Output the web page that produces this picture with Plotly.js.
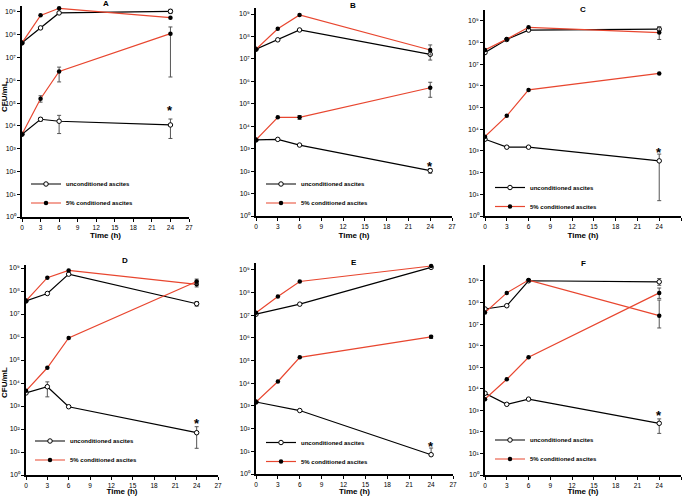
<!DOCTYPE html>
<html>
<head>
<meta charset="utf-8">
<script src="https://cdn.plot.ly/plotly-3.0.1.min.js"></script>
<style>
html,body{margin:0;padding:0;background:#fff;}
#chart{width:684px;height:496px;}
</style>
</head>
<body>
<div id="chart"></div>
<script>
// ---------- DATA ----------
const timeH = [0, 3, 6, 24];
const panelLabels = ['A', 'B', 'C', 'D', 'E', 'F'];
const xTickVals = [0, 3, 6, 9, 12, 15, 18, 21, 24, 27];
const yTickVals = [1, 10, 100, 1e3, 1e4, 1e5, 1e6, 1e7, 1e8, 1e9];
const yTickText = ['10\u2070', '10\u00B9', '10\u00B2', '10\u00B3', '10\u2074',
                   '10\u2075', '10\u2076', '10\u2077', '10\u2078', '10\u2079'];
const seriesNames = ['unconditioned ascites', '5% conditioned ascites'];
const yTitle = 'CFU/mL';
const xTitle = 'Time (h)';

// Panel A (CFU/mL); error bounds: upper / lower, NaN = no bar
const A_highUncond = [4.4e7, 2.0e8, 9.1e8, 1.07e9];
const A_highUncondUp = [NaN, NaN, NaN, 1.3e9];
const A_highUncondLo = [NaN, NaN, NaN, 8.5e8];
const A_highCond = [4.4e7, 7.1e8, 1.45e9, 5.6e8];
const A_lowCond = [4.3e3, 1.55e5, 2.45e6, 1.12e8];
const A_lowCondUp = [NaN, 2.1e5, 3.8e6, 2.2e8];
const A_lowCondLo = [NaN, 1.1e5, 8.5e5, 1.4e6];
const A_lowUncond = [4.3e3, 1.95e4, 1.6e4, 1.1e4];
const A_lowUncondUp = [NaN, 2.3e4, 2.9e4, 2.0e4];
const A_lowUncondLo = [NaN, 1.6e4, 4.6e3, 2.8e3];
const A_star = 6.3e4;

// Panel B
const B_highUncond = [2.7e7, 7.1e7, 1.95e8, 1.6e7];
const B_highUncondUp = [NaN, NaN, NaN, 2.1e7];
const B_highUncondLo = [NaN, NaN, NaN, 8.9e6];
const B_highCond = [2.7e7, 2.2e8, 9.1e8, 2.5e7];
const B_highCondUp = [NaN, NaN, NaN, 4.2e7];
const B_highCondLo = [NaN, NaN, NaN, 1.5e7];
const B_lowCond = [2.45e3, 2.5e4, 2.5e4, 5.2e5];
const B_lowCondUp = [NaN, NaN, 3.0e4, 9.1e5];
const B_lowCondLo = [NaN, NaN, 2.0e4, 1.95e5];
const B_lowUncond = [2.45e3, 2.6e3, 1.45e3, 1.05e2];
const B_lowUncondUp = [NaN, NaN, NaN, 1.3e2];
const B_lowUncondLo = [NaN, NaN, NaN, 0.8e2];
const B_star = 2.2e2;

// Panel C
const C_highUncond = [3.5e7, 1.4e8, 3.8e8, 4.2e8];
const C_highUncondUp = [NaN, NaN, NaN, 4.8e8];
const C_highUncondLo = [NaN, NaN, NaN, 3.6e8];
const C_highCond = [4.6e7, 1.45e8, 5.1e8, 2.9e8];
const C_highCondUp = [NaN, NaN, NaN, 5.5e8];
const C_highCondLo = [NaN, NaN, NaN, 1.4e8];
const C_lowCond = [4.6e3, 4.2e4, 6.6e5, 3.8e6];
const C_lowUncond = [3.5e3, 1.5e3, 1.5e3, 3.5e2];
const C_lowUncondUp = [NaN, NaN, NaN, 7.2e2];
const C_lowUncondLo = [NaN, NaN, NaN, 5.1];
const C_star = 1.23e3;

// Panel D
const D_highUncond = [3.7e7, 7.8e7, 5.4e8, 2.8e7];
const D_highUncondUp = [NaN, NaN, NaN, 3.5e7];
const D_highUncondLo = [NaN, NaN, NaN, 2.2e7];
const D_highCond = [3.7e7, 3.8e8, 7.8e8, 1.95e8];
const D_highCondUp = [NaN, NaN, NaN, 2.7e8];
const D_highCondLo = [NaN, NaN, NaN, 1.5e8];
const D_lowCond = [4.6e3, 4.6e4, 9.1e5, 2.6e8];
const D_lowCondUp = [NaN, NaN, NaN, 3.3e8];
const D_lowCondLo = [NaN, NaN, NaN, 2.0e8];
const D_lowUncond = [3.7e3, 6.9e3, 9.3e2, 69];
const D_lowUncondUp = [NaN, 1.12e4, NaN, 1.26e2];
const D_lowUncondLo = [NaN, 2.5e3, NaN, 14.5];
const D_star = 2.3e2;

// Panel E (null = not measured)
const E_highUncond = [1.12e7, null, 3.1e7, 1.3e9];
const E_highCond = [1.3e7, 6.8e7, 3.1e8, 1.5e9];
const E_lowCond = [1.5e3, 1.2e4, 1.4e5, 1.12e6];
const E_lowCondUp = [NaN, NaN, NaN, 1.3e6];
const E_lowCondLo = [NaN, NaN, NaN, 0.95e6];
const E_lowUncond = [1.5e3, null, 6.3e2, 7.1];
const E_lowUncondUp = [NaN, NaN, NaN, 14];
const E_lowUncondLo = [NaN, NaN, NaN, 7.1];
const E_star = 23;

// Panel F
const F_highUncond = [5.0e7, 7.1e7, 1.02e9, 9.1e8];
const F_highUncondUp = [NaN, NaN, NaN, 1.3e9];
const F_highUncondLo = [NaN, NaN, NaN, 6.3e8];
const F_highCond = [3.4e7, 2.8e8, 1.1e9, 2.45e7];
const F_highCondUp = [NaN, NaN, NaN, 1.3e8];
const F_highCondLo = [NaN, NaN, NaN, 6.6e6];
const F_lowCond = [3.3e3, 2.75e4, 2.9e5, 2.8e8];
const F_lowCondUp = [NaN, NaN, NaN, 4.7e8];
const F_lowCondLo = [NaN, NaN, NaN, 1.55e8];
const F_lowUncond = [6.2e3, 1.9e3, 3.3e3, 2.5e2];
const F_lowUncondUp = [NaN, NaN, NaN, 4.0e2];
const F_lowUncondLo = [NaN, NaN, NaN, 85];
const F_star = 7.8e2;

// ---------- BUILD ----------
const W = 684, H = 496;
const RED = '#e8462f';
const FONT = 'Liberation Sans, Arial, sans-serif';
const NONE = [NaN, NaN, NaN, NaN];

const panels = [
  {id: 'A', hu: [A_highUncond, A_highUncondUp, A_highUncondLo], hc: [A_highCond, NONE, NONE],
   lc: [A_lowCond, A_lowCondUp, A_lowCondLo], lu: [A_lowUncond, A_lowUncondUp, A_lowUncondLo], star: A_star,
   box: {l: 22, r: 189, b: 217, t: 6, dec: 22.78}, leg: {x: 26, y: 193.5}, lab: {x: 106, y: 4}, ytitle: {x: 4, y: 97}, xstand: 3},
  {id: 'B', hu: [B_highUncond, B_highUncondUp, B_highUncondLo], hc: [B_highCond, B_highCondUp, B_highCondLo],
   lc: [B_lowCond, B_lowCondUp, B_lowCondLo], lu: [B_lowUncond, B_lowUncondUp, B_lowUncondLo], star: B_star,
   box: {l: 256, r: 452, b: 216, t: 8, dec: 22.44}, leg: {x: 261, y: 193.5}, lab: {x: 353, y: 5}, xstand: 4},
  {id: 'C', hu: [C_highUncond, C_highUncondUp, C_highUncondLo], hc: [C_highCond, C_highCondUp, C_highCondLo],
   lc: [C_lowCond, NONE, NONE], lu: [C_lowUncond, C_lowUncondUp, C_lowUncondLo], star: C_star,
   box: {l: 485, r: 681, b: 216, t: 10, dec: 21.67}, leg: {x: 490, y: 197}, lab: {x: 583, y: 9}, xstand: 4},
  {id: 'D', hu: [D_highUncond, D_highUncondUp, D_highUncondLo], hc: [D_highCond, D_highCondUp, D_highCondLo],
   lc: [D_lowCond, D_lowCondUp, D_lowCondLo], lu: [D_lowUncond, D_lowUncondUp, D_lowUncondLo], star: D_star,
   box: {l: 26, r: 218, b: 475, t: 265, dec: 23.0}, leg: {x: 30, y: 450.5}, lab: {x: 125, y: 260}, ytitle: {x: 4, y: 383}, xstand: 4},
  {id: 'E', hu: [E_highUncond, NONE, NONE], hc: [E_highCond, NONE, NONE],
   lc: [E_lowCond, E_lowCondUp, E_lowCondLo], lu: [E_lowUncond, E_lowUncondUp, E_lowUncondLo], star: E_star,
   box: {l: 256, r: 453, b: 474, t: 263, dec: 22.67}, leg: {x: 261, y: 452}, lab: {x: 354, y: 262}, xstand: 4},
  {id: 'F', hu: [F_highUncond, F_highUncondUp, F_highUncondLo], hc: [F_highCond, F_highCondUp, F_highCondLo],
   lc: [F_lowCond, F_lowCondUp, F_lowCondLo], lu: [F_lowUncond, F_lowUncondUp, F_lowUncondLo], star: F_star,
   box: {l: 485, r: 681, b: 475, t: 265, dec: 21.56}, leg: {x: 490, y: 449.5}, lab: {x: 583, y: 263}, xstand: 4}
];

function errSpec(vals, up, lo) {
  const plus = vals.map((v, i) => (v == null || isNaN(up[i])) ? NaN : up[i] - v);
  const minus = vals.map((v, i) => (v == null || isNaN(lo[i])) ? NaN : v - lo[i]);
  return {type: 'data', symmetric: false, array: plus, arrayminus: minus,
          color: '#555', thickness: 1, width: 2, visible: true};
}

const traces = [];
const layout = {
  width: W, height: H,
  margin: {l: 0, r: 0, t: 0, b: 0},
  paper_bgcolor: '#fff', plot_bgcolor: '#fff',
  font: {family: FONT, color: '#000', size: 7},
  showlegend: true,
  annotations: []
};

panels.forEach((p, k) => {
  const n = k + 1;
  const xa = 'x' + (n === 1 ? '' : n), ya = 'y' + (n === 1 ? '' : n);
  const legName = 'legend' + (n === 1 ? '' : n);
  const b = p.box;
  const rangeTop = (b.b - b.t) / b.dec;

  const uncondStyle = {line: {color: '#000', width: 1.2},
    marker: {symbol: 'circle', size: 4.5, color: '#fff', line: {color: '#000', width: 1}}};
  const condStyle = {line: {color: RED, width: 1.2},
    marker: {symbol: 'circle', size: 4.5, color: '#000', line: {color: '#000', width: 0}}};

  const defs = [
    {d: p.hu, s: uncondStyle, name: seriesNames[0], show: true},
    {d: p.hc, s: condStyle, name: seriesNames[1], show: true},
    {d: p.lu, s: uncondStyle, name: seriesNames[0], show: false},
    {d: p.lc, s: condStyle, name: seriesNames[1], show: false}
  ];
  defs.forEach(df => {
    traces.push({
      type: 'scatter', mode: 'lines+markers',
      x: timeH, y: df.d[0], xaxis: xa, yaxis: ya,
      name: df.name, showlegend: df.show, legend: legName,
      line: df.s.line, marker: df.s.marker, connectgaps: true,
      error_y: errSpec(df.d[0], df.d[1], df.d[2]),
      hoverinfo: 'x+y+name'
    });
  });

  layout['xaxis' + (n === 1 ? '' : n)] = {
    domain: [b.l / W, b.r / W], anchor: ya, range: [0, 27],
    tickmode: 'array', tickvals: xTickVals, ticktext: xTickVals.map(String),
    ticks: 'outside', ticklen: 3, tickwidth: 1, tickcolor: '#000',
    showline: true, linecolor: '#000', linewidth: 1.5,
    showgrid: false, zeroline: false, automargin: false,
    tickfont: {family: FONT, size: 6.5, color: '#000'},
    title: {text: '<b>' + xTitle + '</b>', font: {family: FONT, size: 8, color: '#000'}, standoff: p.xstand}
  };
  layout['yaxis' + (n === 1 ? '' : n)] = {
    domain: [1 - b.b / H, 1 - b.t / H], anchor: xa, type: 'log', range: [0, rangeTop],
    tickmode: 'array', tickvals: yTickVals, ticktext: yTickText,
    ticks: 'outside', ticklen: 3, tickwidth: 1, tickcolor: '#000',
    showline: true, linecolor: '#000', linewidth: 1.5,
    showgrid: false, zeroline: false, automargin: false,
    tickfont: {family: FONT, size: 7, color: '#000'}
  };
  layout[legName] = {
    x: p.leg.x / W, y: 1 - p.leg.y / H, xanchor: 'left', yanchor: 'middle',
    xref: 'paper', yref: 'paper',
    bgcolor: 'rgba(0,0,0,0)', borderwidth: 0, itemwidth: 30,
    font: {family: FONT, size: 6, color: '#000', weight: 'bold'},
    tracegroupgap: 0
  };
  layout.annotations.push({
    xref: 'paper', yref: 'paper', x: p.lab.x / W, y: 1 - p.lab.y / H,
    text: '<b>' + panelLabels[k] + '</b>', showarrow: false, xanchor: 'center', yanchor: 'middle',
    font: {family: FONT, size: 8, color: '#000'}
  });
  layout.annotations.push({
    xref: xa, yref: ya, x: 24, y: Math.log10(p.star),
    text: '<b>*</b>', showarrow: false, xanchor: 'center', yanchor: 'middle', yshift: -3,
    font: {family: FONT, size: 13, color: '#000'}
  });
  if (p.ytitle) {
    layout.annotations.push({
      xref: 'paper', yref: 'paper', x: p.ytitle.x / W, y: 1 - p.ytitle.y / H,
      text: '<b>' + yTitle + '</b>', showarrow: false, textangle: -90, xanchor: 'center', yanchor: 'middle',
      font: {family: FONT, size: 8, color: '#000'}
    });
  }
});

Plotly.newPlot('chart', traces, layout, {displayModeBar: false, responsive: false});
</script>
</body>
</html>
